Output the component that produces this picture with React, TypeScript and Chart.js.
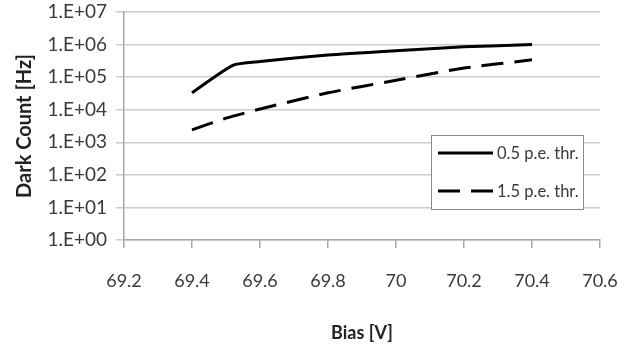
import React, { useEffect, useRef } from "react";
import { Chart, registerables } from "chart.js";

Chart.register(...registerables);

const biasSolid = [69.4, 69.52, 69.6, 69.8, 70.0, 70.2, 70.4];
const countSolid = [3.3e4, 2.3e5, 3.0e5, 4.8e5, 6.5e5, 8.5e5, 1.0e6];
const biasDashed = [69.4, 69.5, 69.6, 69.8, 70.0, 70.2, 70.4];
const countDashed = [2.4e3, 5.5e3, 1.05e4, 3.3e4, 8.0e4, 1.9e5, 3.4e5];
const seriesLabels = ["0.5 p.e. thr.", "1.5 p.e. thr."];
const yTickValues = [1, 10, 100, 1e3, 1e4, 1e5, 1e6, 1e7];
const xTitle = "Bias [V]";
const yTitle = "Dark Count [Hz]";

const FONT = "Lato, 'Open Sans', sans-serif";
const TEXT = "#3a3a3a";

const legendPlugin = {
  id: "boxLegend",
  afterDraw(chart: any) {
    const { ctx, chartArea } = chart;
    const bx = chartArea.right - 169;
    const by = chartArea.top + 123;
    const bw = 152;
    const bh = 74;
    ctx.save();
    ctx.fillStyle = "#ffffff";
    ctx.fillRect(bx, by, bw, bh);
    ctx.strokeStyle = "#8a8a8a";
    ctx.lineWidth = 1;
    ctx.strokeRect(bx + 0.5, by + 0.5, bw, bh);
    const rows = [by + 18, by + 56];
    chart.data.datasets.forEach((ds: any, i: number) => {
      const y = rows[i];
      ctx.beginPath();
      ctx.strokeStyle = "#000";
      ctx.lineWidth = 3;
      ctx.setLineDash(ds.borderDash || []);
      ctx.moveTo(bx + 7, y);
      ctx.lineTo(bx + 62, y);
      ctx.stroke();
      ctx.setLineDash([]);
      ctx.fillStyle = TEXT;
      ctx.font = `16.5px ${FONT}`;
      ctx.textBaseline = "middle";
      ctx.textAlign = "left";
      ctx.fillText(ds.label, bx + 66, y + 1);
    });
    ctx.restore();
  },
};

export default function App() {
  const ref = useRef<HTMLCanvasElement | null>(null);
  useEffect(() => {
    if (!ref.current) return;
    const chart = new Chart(ref.current, {
      type: "line",
      data: {
        datasets: [
          {
            label: seriesLabels[0],
            data: biasSolid.map((x, i) => ({ x, y: countSolid[i] })),
            borderColor: "#000",
            borderWidth: 3,
            pointRadius: 0,
            tension: 0.2,
            fill: false,
          },
          {
            label: seriesLabels[1],
            data: biasDashed.map((x, i) => ({ x, y: countDashed[i] })),
            borderColor: "#000",
            borderWidth: 3,
            borderDash: [22, 11],
            pointRadius: 0,
            tension: 0.2,
            fill: false,
          },
        ],
      },
      options: {
        animation: false,
        responsive: false,
        maintainAspectRatio: false,
        layout: { padding: { top: 12, right: 36, left: 0, bottom: 0 } },
        plugins: { legend: { display: false }, tooltip: { enabled: false } },
        scales: {
          x: {
            type: "linear",
            min: 69.2,
            max: 70.6,
            afterBuildTicks: (s: any) => {
              const t = [];
              for (let i = 0; i <= 7; i++) t.push({ value: Math.round((69.2 + i * 0.2) * 10) / 10 });
              s.ticks = t;
            },
            ticks: {
              color: TEXT,
              font: { family: FONT, size: 18 },
              padding: 22,
              maxRotation: 0,
              callback: (v: any) => String(Number(Number(v).toFixed(1))),
            },
            grid: {
              display: true,
              drawOnChartArea: false,
              drawTicks: true,
              tickLength: 8,
              color: "#a8a8a8",
              lineWidth: 1.5,
            },
            border: { display: true, color: "#a8a8a8", width: 1.5 },
            title: {
              display: true,
              text: xTitle,
              color: "#222",
              font: { family: FONT, size: 18, weight: "bold" },
              padding: { top: 0, bottom: 3 },
            },
            afterFit: (s: any) => {
              s.height = 107;
              s.paddingLeft = 0;
              s.paddingRight = 0;
            },
          },
          y: {
            type: "logarithmic",
            min: 1,
            max: 1e7,
            afterBuildTicks: (s: any) => {
              s.ticks = yTickValues.map((v) => ({ value: v }));
            },
            ticks: {
              color: TEXT,
              font: { family: FONT, size: 19 },
              padding: 9,
              callback: (v: any) => "1.E+" + String(Math.round(Math.log10(Number(v)))).padStart(2, "0"),
            },
            grid: {
              color: "#cccccc",
              lineWidth: 1.5,
              drawTicks: true,
              tickLength: 8,
            },
            border: { display: true, color: "#a8a8a8", width: 1.5 },
            title: {
              display: true,
              text: yTitle,
              color: "#222",
              font: { family: FONT, size: 20, weight: "bold" },
              padding: { top: 13, bottom: 0 },
            },
            afterFit: (s: any) => {
              s.width = 124;
              s.paddingTop = 0;
              s.paddingBottom = 0;
            },
          },
        },
      },
      plugins: [legendPlugin],
    });
    return () => chart.destroy();
  }, []);
  return (
    <div style={{ position: "fixed", left: 0, top: 0, width: 636, height: 347, background: "#fff" }}>
      <canvas ref={ref} width={636} height={347} style={{ width: 636, height: 347 }} />
    </div>
  );
}
